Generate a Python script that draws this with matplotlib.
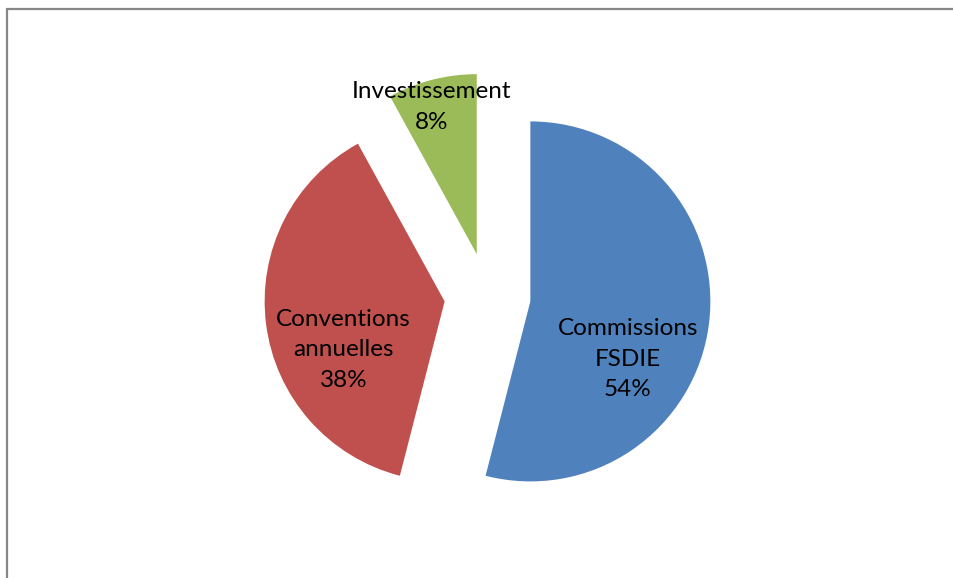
"""Pie chart of the FSDIE budget split (recreated)."""

import matplotlib

matplotlib.use("Agg")
import matplotlib.pyplot as plt
from matplotlib.patches import Rectangle

LABELS = ["Commissions\nFSDIE", "Conventions\nannuelles", "Investissement"]
SHARES = [54, 38, 8]
COLORS = ["#4F81BD", "#C0504D", "#9BBB59"]

# label centres, in pie radius units from the pie centre
LABEL_POS = [(0.78, -0.35), (-0.80, -0.30), (-0.31, 1.05)]

W_PX, H_PX = 954, 578
CX, CY, R = 487.5, 296, 180  # pie centre and radius in pixels


def main():
    fig = plt.figure(figsize=(W_PX / 100, H_PX / 100), dpi=100)
    ax = fig.add_axes([0, 0, 1, 1])
    ax.axis("off")

    ax.pie(
        SHARES,
        colors=COLORS,
        explode=[0.24] * len(SHARES),
        startangle=90,
        counterclock=False,
        radius=1,
        wedgeprops=dict(linewidth=0),
    )
    ax.set_xlim(-CX / R, (W_PX - CX) / R)
    ax.set_ylim((CY - H_PX) / R, CY / R)
    ax.set_aspect("auto")

    total = sum(SHARES)
    for label, val, (lx, ly) in zip(LABELS, SHARES, LABEL_POS):
        ax.text(
            lx,
            ly,
            f"{label}\n{round(100 * val / total)}%",
            ha="center",
            va="center",
            fontsize=17.5,
            family="Lato",
            linespacing=1.55,
            color="black",
        )

    # frame of the chart area, cut by the right and bottom edges
    fig.patches.append(
        Rectangle(
            (7.5 / W_PX, -0.1),
            1.2,
            1.1 - 9 / H_PX,
            transform=fig.transFigure,
            fill=False,
            edgecolor="#878787",
            linewidth=1.6,
        )
    )

    fig.savefig("out.png", dpi=100, facecolor="white")
    plt.close(fig)


if __name__ == "__main__":
    main()
